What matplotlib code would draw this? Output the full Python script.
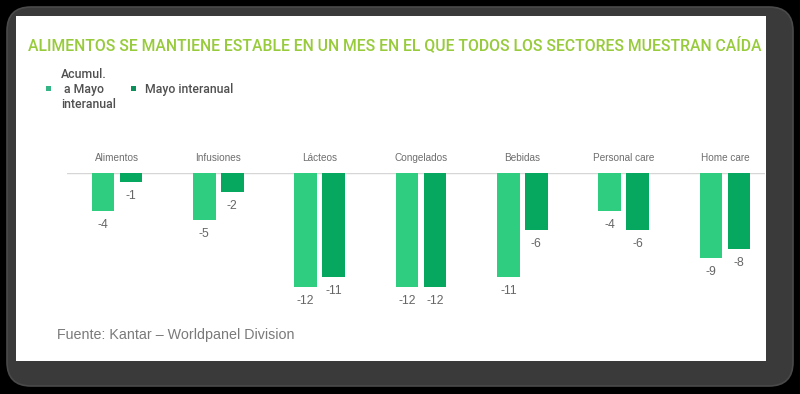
"""Kantar Worldpanel: variación por sector, acumulado a mayo vs. mayo interanual."""

import matplotlib
matplotlib.use("Agg")
import matplotlib.pyplot as plt
import numpy as np
from matplotlib import font_manager
from matplotlib.patches import FancyBboxPatch, Rectangle

W, H = 800, 394

categories = ["Alimentos", "Infusiones", "Lácteos", "Congelados", "Bebidas",
              "Personal care", "Home care"]
acum_mayo = [-4, -5, -12, -12, -11, -4, -9]
mayo_interanual = [-1, -2, -11, -12, -6, -6, -8]

TITLE = "ALIMENTOS SE MANTIENE ESTABLE EN UN MES EN EL QUE TODOS LOS SECTORES MUESTRAN CAÍDA"
SOURCE = "Fuente: Kantar \u2013 Worldpanel Division"

LIGHT = "#2fcd7f"
DARK = "#05a85e"
TITLE_GREEN = "#98cb3c"


def pick(*names):
    installed = {f.name for f in font_manager.fontManager.ttflist}
    for n in names:
        if n in installed:
            return n
    return "DejaVu Sans"


NARROW = pick("Liberation Sans Narrow", "Roboto", "Liberation Sans")
ARIAL = pick("Liberation Sans", "DejaVu Sans")


def fx(px):
    return px / W


def fy(py):
    return 1 - py / H


fig = plt.figure(figsize=(W / 100, H / 100), dpi=100, facecolor="black")

# dark rounded frame and white card (kept behind the axes)
fig.patches.append(FancyBboxPatch((fx(7 + 20), fy(386 - 20)), fx(786 - 40), (379 - 40) / H,
                                  boxstyle="round,pad=0.025,rounding_size=0.03",
                                  transform=fig.transFigure, facecolor="#3a3a3a",
                                  edgecolor="#4a4a4a", lw=1.2, mutation_aspect=W / H,
                                  zorder=-3))
fig.patches.append(Rectangle((fx(16), fy(361)), fx(750), 345 / H,
                             transform=fig.transFigure, facecolor="white", edgecolor="none",
                             zorder=-2))

# title, fitted to the width it has in the reference
title = fig.text(fx(28), fy(45), TITLE, color=TITLE_GREEN, fontsize=11,
                 family=NARROW, ha="left", va="center", fontweight="medium")
renderer = fig.canvas.get_renderer()
tw = title.get_window_extent(renderer).width
title.set_fontsize(11 * 729 / tw)

# legend
fig.patches.append(Rectangle((fx(46), fy(91)), fx(5), 5 / H, transform=fig.transFigure,
                             facecolor="#35b585", edgecolor="none"))
fig.patches.append(Rectangle((fx(131), fy(91)), fx(5), 5 / H, transform=fig.transFigure,
                             facecolor="#0d8f5c", edgecolor="none"))
for text, x, y in [("Acumul.", 61, 74), (" a Mayo", 61, 89), ("interanual", 61, 104),
                   ("Mayo interanual", 145, 89)]:
    fig.text(fx(x), fy(y), text, color="#505050", fontsize=8.8, family=NARROW,
             ha="left", va="center", fontweight="medium")

# source
fig.text(fx(57), fy(335), SOURCE, color="#7a7a7a", fontsize=10.3, family=ARIAL,
         ha="left", va="center")

# bars
ax = fig.add_axes([fx(67), fy(286.7), fx(765 - 67), 114 / H])
ax.set_facecolor("none")
x = np.arange(len(categories))
off, bw = 0.138, 0.222
ax.bar(x - off, acum_mayo, width=bw, color=LIGHT, zorder=2)
ax.bar(x + off, mayo_interanual, width=bw, color=DARK, zorder=2)
ax.axhline(0, color="#d6d6d6", lw=1, zorder=1)
ax.set_xlim(-0.493, 6.394)
ax.set_ylim(-12, 0)
ax.axis("off")

for xi, name in zip(x, categories):
    ax.annotate(name, (xi, 0), xytext=(0, 10.4), textcoords="offset points",
                ha="center", va="center", fontsize=7.2, color="#6e6e6e",
                family=ARIAL, annotation_clip=False)

for xs, vals in [(x - off, acum_mayo), (x + off, mayo_interanual)]:
    for xi, v in zip(xs, vals):
        ax.annotate(f"{v:d}", (xi, v), xytext=(0, -10.2), textcoords="offset points",
                    ha="center", va="center", fontsize=8.8, color="#666666",
                    family=ARIAL, annotation_clip=False)

fig.savefig("out.png", dpi=100, facecolor=fig.get_facecolor())
